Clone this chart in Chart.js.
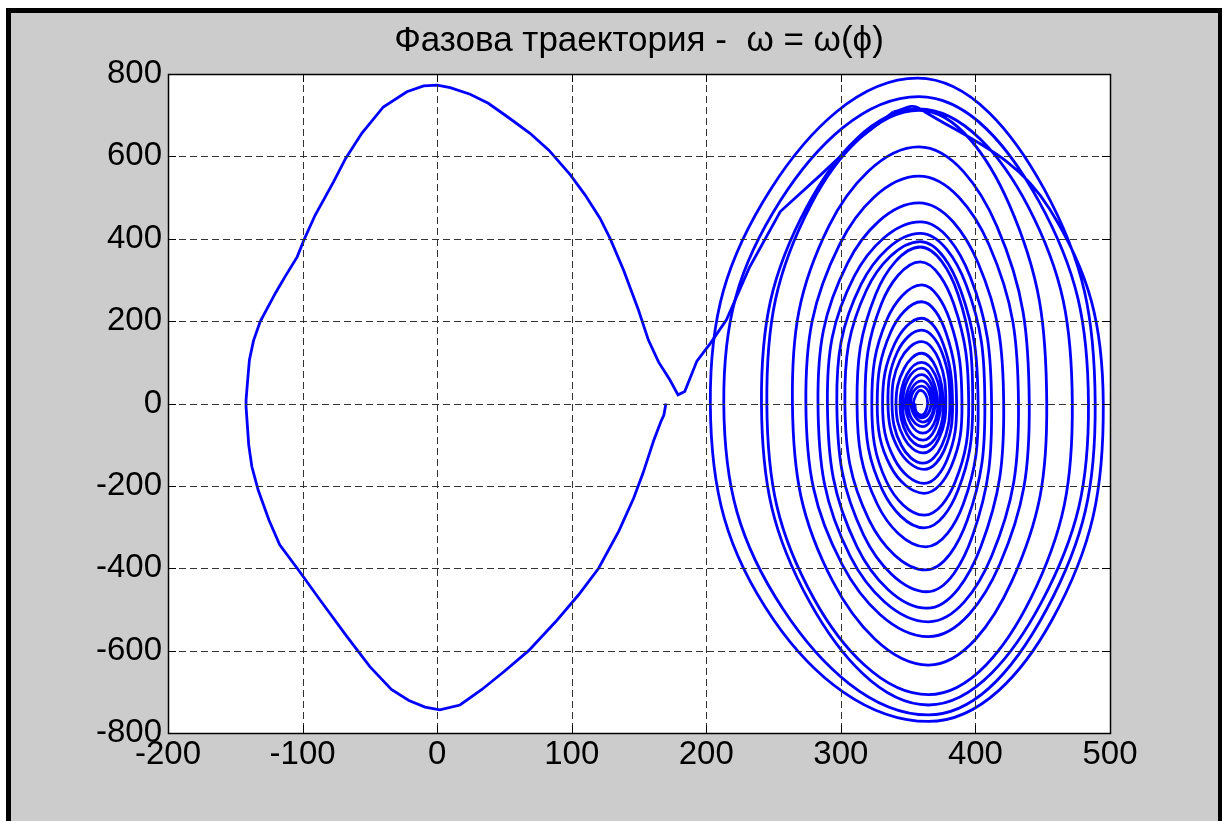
<!DOCTYPE html>
<html>
<head>
<meta charset="utf-8">
<script src="https://cdn.jsdelivr.net/npm/chart.js@4.4.1/dist/chart.umd.min.js"></script>
<style>
  html, body { margin: 0; padding: 0; background: #fff; overflow: hidden; }
  #frame {
    position: absolute; left: 6px; top: 8px; width: 1216px; height: 830px;
    box-sizing: border-box; background: #cccccc;
    border-left: 5px solid #000; border-top: 5px solid #000; border-right: 4px solid #000;
  }
  #wrap { position: absolute; left: 0; top: 0; width: 1226px; height: 821px; }
</style>
</head>
<body>
<div id="frame"></div>
<div id="wrap"><canvas id="phase"></canvas></div>
<script>
// axis ticks
const phiTicks = [-200, -100, 0, 100, 200, 300, 400, 500];
const omegaTicks = [-800, -600, -400, -200, 0, 200, 400, 600, 800];

// first swing over the top: [phi, omega]
const swing = [
  [170, 0], [168.5, -28], [166.5, -42], [161, -89], [153, -169], [146, -230], [135, -310],
  [120, -400], [105, -465], [88, -530], [68, -600], [50, -650], [33, -695], [17, -732],
  [2, -744], [-9, -737], [-21, -721], [-34, -694], [-50, -639], [-67, -566], [-87, -477],
  [-104, -400], [-117, -343], [-125, -283], [-133, -210], [-137.7, -153], [-140, -101],
  [-142, -8], [-142, 8], [-141, 49], [-139.5, 106], [-136.5, 152], [-131.5, 199], [-120, 269],
  [-113, 308], [-104, 356], [-99, 397], [-90.7, 457], [-77, 538], [-68, 595], [-56, 656],
  [-40, 720], [-22.5, 757], [-10, 771], [0, 773], [9.7, 767], [24.5, 751], [38, 729],
  [54, 692], [69, 656], [83, 615], [99, 555], [110, 506], [121, 450], [128.5, 401],
  [138.5, 324], [149.6, 227], [157, 154], [164.5, 101], [173, 57], [179, 21], [184, 29],
  [193, 103], [203, 146], [215, 203], [232, 330], [255, 466], [285, 555], [314, 644], [339, 708]
];

// oscillation around 360 deg: [phi, omega]
const spiral = [
  [339, 708],
  [358, 717], [455, 473], [495, 0], [457, -525], [365, -772], [250, -525], [203, 0],
  [248, 521], [357, 790], [451, 521], [489, 0], [453, -499], [365, -756], [257, -499], [213, 0],
  [255, 492], [358, 745], [447, 492], [484, 0], [449, -483], [365, -732], [277, -483], [241, 0],
  [275, 479], [358, 715], [439, 479], [472, 0], [441, -474], [365, -707], [280, -474], [245, 0],
  [278, 484], [358, 712], [425, 484], [453, 0], [427, -432], [365, -635], [294, -432], [264, 0],
  [291, 430], [358, 623], [416, 430], [440, 0], [418, -391], [365, -566], [301, -391], [274, 0],
  [299, 386], [358, 552], [410, 386], [432, 0], [412, -371], [365, -530], [307, -371], [283, 0],
  [305, 341], [358, 487], [402, 341], [421, 0], [404, -348], [364, -497], [312, -348], [290, 0],
  [310, 309], [359, 441], [396, 309], [412, 0], [398, -320], [364, -457], [317, -320], [297, 0],
  [315, 289], [359, 413], [393, 289], [407, 0], [394, -283], [363, -404], [321, -283], [303, 0],
  [319, 275], [359, 393], [389, 275], [402, 0], [391, -244], [363, -348], [327, -244], [312, 0],
  [326, 266], [359, 380], [387, 266], [398, 0], [387, -211], [362, -302], [331, -211], [318, 0],
  [330, 241], [359, 344], [384, 241], [395, 0], [385, -190], [362, -271], [334, -190], [323, 0],
  [334, 202], [360, 288], [381, 202], [390, 0], [382, -153], [362, -218], [337, -153], [327, 0],
  [337, 173], [360, 247], [378, 173], [386, 0], [379, -136], [362, -194], [340, -136], [331, 0],
  [340, 145], [360, 207], [376, 145], [383, 0], [377, -112], [362, -160], [343, -112], [335, 0],
  [342, 125], [360, 178], [375, 125], [381, 0], [375, -102], [361, -145], [345, -102], [338, 0],
  [344, 105], [360, 150], [373, 105], [378, 0], [373, -84], [361, -120], [347, -84], [341, 0],
  [347, 85], [360, 122], [371, 85], [376, 0], [372, -74], [361, -105], [349, -74], [344, 0],
  [349, 70], [360, 100], [370, 70], [374, 0], [370, -62], [361, -89], [350, -62], [346, 0],
  [350, 60], [360, 86], [368, 60], [372, 0], [369, -50], [361, -72], [352, -50], [348, 0],
  [352, 49], [360, 70], [367, 49], [370, 0], [367, -39], [361, -56], [353, -39], [350, 0],
  [353, 38], [360, 55], [366, 38], [369, 0], [367, -31], [361, -45], [355, -31], [352, 0],
  [354, 29], [360, 42], [365, 29], [367, 0], [365, -24], [360, -35], [356, -24], [354, 0],
  [356, 22], [359, 32], [363, 22], [364.5, 0], [363, -20], [360, -28], [356, -20], [355, 0]
];

const toXY = arr => arr.map(p => ({ x: p[0], y: p[1] }));
const font = { family: "'Liberation Sans', Arial, sans-serif", size: 33 };

// white plot area, then dashed grid + box + inner ticks on top of the curve
const axesBox = {
  id: "axesBox",
  beforeDatasetsDraw(chart) {
    const { ctx, chartArea: a } = chart;
    ctx.save();
    ctx.fillStyle = "#fff";
    ctx.fillRect(a.left, a.top, a.width, a.height);
    ctx.restore();
  },
  afterDatasetsDraw(chart) {
    const { ctx, chartArea: a, scales } = chart;
    ctx.save();
    ctx.lineWidth = 1;
    ctx.strokeStyle = "#333";
    ctx.setLineDash([7, 4]);
    ctx.beginPath();
    phiTicks.forEach(v => {
      const px = Math.round(scales.x.getPixelForValue(v)) + 0.5;
      ctx.moveTo(px, a.top); ctx.lineTo(px, a.bottom);
    });
    omegaTicks.forEach(v => {
      const py = Math.round(scales.y.getPixelForValue(v)) + 0.5;
      ctx.moveTo(a.left, py); ctx.lineTo(a.right, py);
    });
    ctx.stroke();

    ctx.setLineDash([]);
    ctx.strokeStyle = "#000";
    ctx.beginPath();
    phiTicks.forEach(v => {
      const px = Math.round(scales.x.getPixelForValue(v)) + 0.5;
      ctx.moveTo(px, a.bottom); ctx.lineTo(px, a.bottom - 8);
      ctx.moveTo(px, a.top); ctx.lineTo(px, a.top + 8);
    });
    omegaTicks.forEach(v => {
      const py = Math.round(scales.y.getPixelForValue(v)) + 0.5;
      ctx.moveTo(a.left, py); ctx.lineTo(a.left + 8, py);
      ctx.moveTo(a.right, py); ctx.lineTo(a.right - 8, py);
    });
    ctx.stroke();
    ctx.lineWidth = 1.5;
    ctx.strokeRect(Math.round(a.left) + 0.5, Math.round(a.top) + 0.5, Math.round(a.width), Math.round(a.height));
    ctx.restore();
  }
};

new Chart(document.getElementById("phase"), {
  type: "line",
  data: {
    datasets: [
      { data: toXY(swing), borderColor: "#0000ff", borderWidth: 2.8, pointRadius: 0, tension: 0, fill: false },
      { data: toXY(spiral), borderColor: "#0000ff", borderWidth: 2.8, pointRadius: 0, tension: 0.4, fill: false }
    ]
  },
  options: {
    responsive: true,
    maintainAspectRatio: false,
    animation: false,
    layout: { padding: { top: 20, right: 116, bottom: 0, left: 0 } },
    plugins: {
      legend: { display: false },
      tooltip: { enabled: false },
      title: {
        display: true,
        fullSize: false,
        text: "Фазова траектория -  ω = ω(ϕ)",
        color: "#000",
        font: { family: "'Liberation Sans', Arial, sans-serif", size: 35, weight: "normal" },
        padding: { top: 0, bottom: 12 }
      }
    },
    scales: {
      x: {
        type: "linear",
        min: -200, max: 500,
        grid: { display: false, drawTicks: false },
        border: { display: false },
        afterBuildTicks: s => { s.ticks = phiTicks.map(v => ({ value: v })); },
        afterFit: s => { s.height = 88; },
        ticks: { font, color: "#000", padding: 2, maxRotation: 0 }
      },
      y: {
        type: "linear",
        min: -800, max: 800,
        grid: { display: false, drawTicks: false },
        border: { display: false },
        afterBuildTicks: s => { s.ticks = omegaTicks.map(v => ({ value: v })); },
        afterFit: s => { s.width = 168; },
        ticks: { font, color: "#000", padding: 6 }
      }
    }
  },
  plugins: [axesBox]
});
</script>
</body>
</html>
